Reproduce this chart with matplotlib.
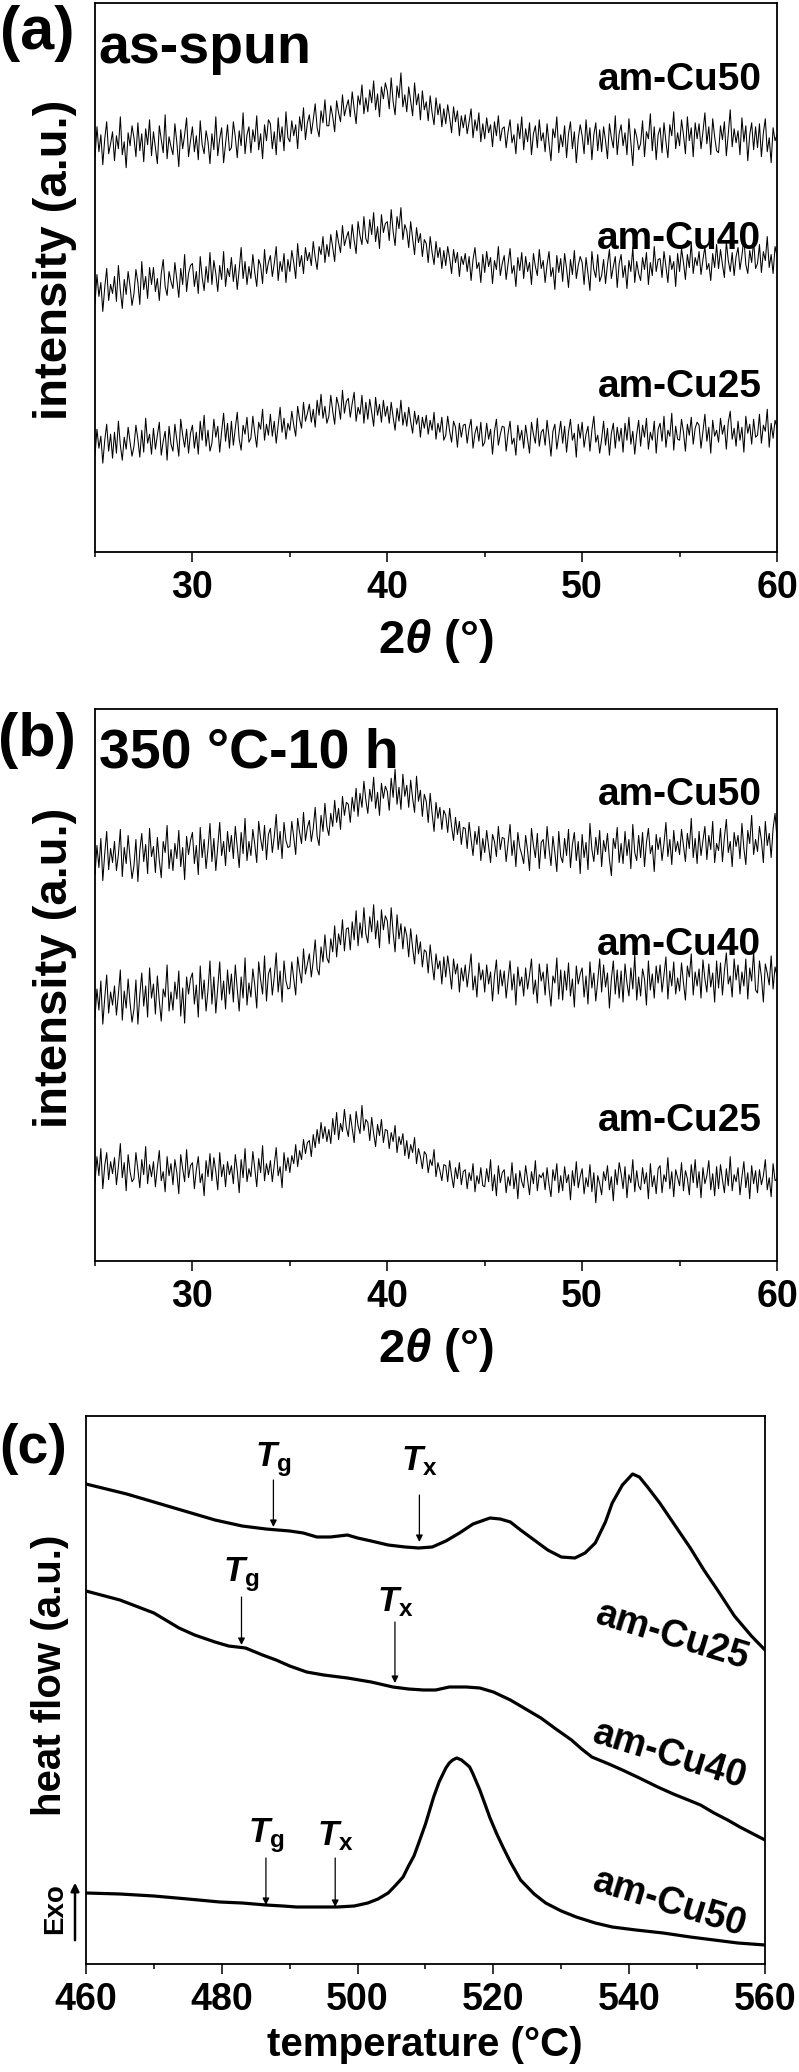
import numpy as np
import matplotlib
matplotlib.use("Agg")
import matplotlib.pyplot as plt
from matplotlib.ticker import MultipleLocator

plt.rcParams['font.family'] = ['Liberation Sans', 'DejaVu Sans']
plt.rcParams['font.weight'] = 'bold'
plt.rcParams['mathtext.fontset'] = 'custom'
plt.rcParams['mathtext.rm'] = 'Liberation Sans:bold'
plt.rcParams['mathtext.it'] = 'Liberation Sans:italic'
plt.rcParams['mathtext.bf'] = 'Liberation Sans:bold'
plt.rcParams['mathtext.bfit'] = 'Liberation Sans:bold:italic'

# 2theta scan, 0.1 deg step
two_theta = np.round(np.arange(25.0, 60.001, 0.1), 1)

# (a) as-spun
a_cu50 = [395, 426, 401, 418, 388, 414, 431, 399, 409, 421,
          392, 417, 404, 436, 398, 411, 385, 420, 407, 427,
          415, 396, 430, 402, 419, 391, 424, 408, 433, 397,
          421, 405, 389, 427, 413, 400, 438, 394, 416, 406,
          398, 429, 410, 386, 423, 404, 418, 435, 396, 412,
          426, 401, 417, 393, 432, 408, 399, 422, 411, 389,
          419, 403, 436, 397, 414, 425, 390, 409, 428, 402,
          405, 431, 416, 395, 422, 407, 440, 399, 418, 426,
          400, 423, 411, 437, 403, 419, 394, 428, 412, 433,
          429, 404, 421, 398, 435, 411, 426, 402, 441, 415,
          411, 432, 417, 428, 404, 436, 422, 445, 413, 430,
          438, 419, 433, 449, 425, 416, 442, 430, 453, 427,
          427, 447, 436, 421, 452, 440, 431, 458, 437, 446,
          453, 436, 461, 444, 429, 457, 448, 468, 439, 455,
          441, 463, 450, 472, 443, 459, 436, 466, 454, 470,
          462, 444, 475, 451, 438, 467, 455, 480, 446, 458,
          441, 466, 452, 437, 470, 448, 459, 433, 462, 443,
          451, 432, 457, 440, 428, 455, 438, 449, 426, 444,
          429, 448, 435, 420, 446, 431, 442, 417, 437, 425,
          438, 419, 431, 444, 415, 433, 422, 440, 411, 429,
          414, 435, 420, 428, 406, 431, 417, 437, 412, 424,
          426, 405, 421, 433, 410, 418, 399, 429, 414, 436,
          403, 424, 411, 430, 398, 419, 427, 405, 433, 412,
          420, 401, 429, 409, 392, 424, 415, 436, 400, 418,
          406, 427, 395, 419, 431, 404, 421, 390, 414, 428,
          417, 399, 433, 408, 425, 393, 418, 430, 402, 423,
          401, 426, 412, 394, 429, 415, 405, 437, 398, 419,
          428, 407, 420, 398, 434, 411, 387, 424, 416, 403,
          409, 432, 396, 421, 414, 439, 402, 426, 393, 418,
          425, 400, 430, 411, 395, 428, 417, 441, 404, 420,
          407, 433, 418, 399, 436, 412, 425, 396, 430, 414,
          429, 404, 421, 440, 409, 426, 398, 434, 416, 402,
          400, 427, 413, 431, 397, 419, 443, 406, 424, 410,
          422, 398, 435, 411, 427, 392, 418, 430, 403, 426,
          405, 429, 396, 420, 434, 401, 415, 390, 425, 412,
          418]
a_cu40 = [249, 278, 256, 270, 241, 265, 284, 252, 268, 259,
          276, 251, 287, 262, 244, 273, 258, 281, 266, 247,
          259, 283, 270, 248, 291, 263, 276, 254, 285, 268,
          285, 261, 274, 252, 279, 293, 266, 257, 281, 271,
          264, 290, 272, 255, 284, 268, 298, 261, 279, 287,
          289, 266, 281, 259, 296, 275, 262, 286, 270, 300,
          268, 292, 279, 261, 287, 273, 301, 266, 284, 276,
          295, 271, 288, 263, 283, 305, 274, 291, 268, 286,
          274, 298, 280, 266, 293, 287, 269, 303, 279, 290,
          297, 276, 289, 306, 272, 291, 281, 299, 270, 293,
          281, 302, 290, 274, 309, 286, 297, 279, 305, 292,
          300, 287, 311, 295, 283, 306, 298, 316, 290, 308,
          296, 318, 305, 291, 322, 310, 300, 327, 307, 315,
          321, 304, 328, 312, 299, 331, 317, 308, 336, 314,
          309, 333, 318, 340, 311, 326, 304, 338, 320, 329,
          331, 312, 343, 321, 307, 336, 324, 345, 313, 328,
          322, 305, 331, 314, 298, 325, 310, 319, 296, 313,
          309, 290, 316, 300, 288, 311, 295, 305, 284, 302,
          287, 306, 294, 279, 303, 290, 300, 276, 296, 288,
          299, 281, 296, 272, 293, 305, 284, 290, 270, 298,
          280, 301, 286, 295, 269, 292, 283, 306, 277, 289,
          297, 273, 289, 304, 279, 287, 266, 295, 282, 300,
          274, 296, 281, 290, 268, 299, 286, 277, 303, 284,
          292, 270, 288, 301, 276, 285, 263, 297, 280, 294,
          271, 299, 284, 265, 293, 278, 302, 274, 287, 296,
          290, 268, 295, 279, 262, 301, 283, 275, 298, 271,
          277, 293, 269, 288, 303, 274, 286, 296, 265, 289,
          298, 275, 287, 264, 292, 281, 305, 270, 291, 279,
          272, 295, 283, 300, 268, 290, 277, 306, 281, 293,
          294, 275, 301, 286, 270, 297, 283, 291, 266, 299,
          281, 304, 290, 273, 298, 285, 310, 279, 295, 287,
          301, 278, 293, 306, 283, 289, 272, 299, 285, 308,
          284, 303, 288, 275, 311, 292, 281, 300, 277, 296,
          305, 283, 297, 314, 288, 279, 302, 290, 312, 284,
          289, 308, 280, 301, 292, 316, 285, 298, 279, 306,
          297]
a_cu25 = [97, 123, 104, 116, 89, 112, 128, 101, 118, 94,
          120, 99, 131, 107, 92, 115, 103, 125, 110, 96,
          106, 127, 113, 95, 122, 100, 134, 109, 118, 98,
          124, 103, 117, 130, 97, 111, 121, 92, 126, 108,
          101, 128, 112, 96, 133, 117, 105, 123, 99, 119,
          127, 104, 120, 98, 131, 112, 137, 106, 122, 101,
          109, 133, 115, 126, 100, 121, 139, 111, 129, 104,
          131, 107, 124, 140, 113, 102, 127, 118, 135, 110,
          114, 136, 119, 105, 130, 123, 143, 112, 128, 117,
          138, 116, 131, 109, 127, 145, 120, 134, 113, 129,
          122, 141, 127, 116, 146, 133, 124, 150, 131, 139,
          148, 130, 143, 125, 152, 137, 158, 134, 146, 129,
          136, 157, 141, 128, 155, 147, 133, 162, 139, 151,
          154, 135, 149, 160, 131, 145, 138, 157, 129, 150,
          133, 153, 140, 126, 155, 137, 148, 130, 152, 136,
          146, 129, 150, 135, 122, 144, 131, 152, 127, 140,
          126, 145, 131, 119, 141, 128, 137, 115, 135, 124,
          137, 118, 132, 122, 140, 113, 129, 120, 135, 112,
          117, 136, 121, 110, 131, 125, 105, 129, 115, 127,
          128, 109, 124, 133, 104, 119, 126, 111, 130, 106,
          110, 129, 113, 123, 98, 121, 133, 107, 118, 126,
          125, 101, 119, 131, 108, 114, 97, 127, 112, 122,
          104, 127, 113, 99, 130, 118, 109, 134, 106, 120,
          123, 107, 132, 115, 96, 121, 128, 103, 117, 131,
          109, 126, 100, 120, 133, 112, 119, 95, 128, 114,
          130, 105, 118, 126, 101, 122, 136, 110, 117, 99,
          113, 131, 107, 124, 97, 119, 129, 104, 125, 111,
          124, 100, 129, 112, 135, 108, 121, 98, 118, 132,
          106, 127, 115, 134, 103, 120, 112, 131, 99, 123,
          129, 111, 136, 105, 122, 116, 139, 102, 126, 113,
          112, 133, 120, 101, 128, 117, 135, 108, 124, 130,
          127, 104, 121, 138, 111, 125, 99, 132, 116, 122,
          110, 134, 118, 127, 103, 130, 141, 113, 124, 106,
          131, 112, 125, 100, 136, 119, 128, 108, 133, 115,
          117, 138, 109, 127, 121, 143, 105, 129, 114, 132,
          125]

# (b) 350 C - 10 h
b_cu50 = [385, 414, 392, 421, 379, 406, 428, 390, 411, 397,
          418, 389, 405, 430, 383, 412, 396, 424, 401, 381,
          394, 420, 378, 409, 426, 398, 415, 386, 431, 403,
          413, 387, 422, 399, 382, 418, 407, 434, 391, 410,
          389, 416, 401, 429, 393, 412, 380, 423, 405, 419,
          427, 396, 414, 385, 432, 402, 420, 391, 411, 436,
          398, 421, 389, 413, 437, 404, 418, 394, 428, 408,
          424, 401, 433, 412, 392, 427, 406, 441, 399, 418,
          404, 430, 415, 397, 438, 421, 409, 434, 400, 425,
          431, 407, 423, 445, 410, 428, 401, 437, 419, 412,
          413, 438, 422, 405, 441, 427, 416, 447, 419, 432,
          439, 418, 431, 452, 423, 414, 444, 428, 456, 433,
          424, 446, 433, 459, 437, 451, 430, 463, 444, 457,
          455, 437, 462, 448, 471, 443, 466, 452, 478, 459,
          446, 470, 458, 482, 451, 467, 444, 476, 461, 473,
          468, 449, 481, 462, 490, 455, 472, 450, 485, 463,
          474, 452, 479, 461, 447, 483, 458, 469, 443, 465,
          458, 437, 466, 446, 428, 457, 441, 452, 430, 449,
          444, 427, 451, 433, 419, 442, 425, 438, 415, 432,
          431, 411, 437, 420, 404, 428, 415, 433, 399, 421,
          407, 429, 413, 397, 425, 418, 403, 433, 410, 422,
          421, 398, 416, 435, 404, 419, 393, 427, 412, 405,
          396, 424, 409, 389, 431, 414, 402, 426, 391, 417,
          420, 401, 433, 411, 394, 423, 407, 388, 428, 403,
          397, 421, 404, 430, 392, 415, 427, 399, 418, 386,
          425, 402, 417, 390, 436, 410, 398, 422, 405, 429,
          393, 419, 408, 426, 400, 384, 421, 411, 432, 397,
          416, 396, 428, 404, 420, 391, 435, 407, 399, 424,
          402, 427, 393, 417, 431, 406, 414, 388, 425, 410,
          422, 399, 416, 437, 403, 420, 395, 429, 408, 418,
          405, 430, 414, 398, 426, 411, 441, 402, 421, 396,
          428, 404, 419, 433, 400, 424, 410, 438, 397, 416,
          409, 431, 398, 422, 440, 407, 418, 393, 427, 413,
          424, 401, 436, 411, 395, 429, 416, 444, 405, 420,
          408, 433, 419, 397, 438, 414, 426, 402, 431, 446,
          421]
b_cu40 = [243, 271, 250, 279, 236, 262, 285, 247, 268, 255,
          274, 245, 266, 290, 240, 269, 252, 281, 257, 238,
          251, 280, 236, 265, 287, 254, 274, 243, 292, 262,
          276, 246, 284, 259, 239, 271, 263, 295, 249, 268,
          250, 278, 261, 289, 244, 272, 237, 283, 266, 281,
          287, 256, 275, 243, 294, 261, 280, 249, 270, 299,
          256, 283, 247, 272, 298, 260, 279, 251, 290, 266,
          286, 258, 295, 271, 249, 283, 262, 302, 255, 277,
          263, 291, 275, 252, 298, 280, 266, 304, 259, 286,
          292, 265, 283, 307, 268, 289, 258, 299, 279, 271,
          272, 298, 281, 265, 303, 289, 277, 311, 286, 296,
          306, 283, 299, 320, 291, 285, 313, 298, 325, 302,
          297, 321, 308, 334, 303, 326, 315, 340, 309, 331,
          332, 310, 338, 320, 349, 314, 337, 322, 352, 326,
          317, 343, 328, 355, 321, 339, 312, 350, 330, 344,
          339, 316, 352, 327, 308, 345, 321, 336, 311, 333,
          324, 303, 331, 312, 296, 325, 306, 318, 293, 310,
          308, 287, 315, 296, 280, 306, 291, 299, 276, 303,
          283, 304, 289, 271, 301, 286, 296, 268, 292, 279,
          295, 273, 289, 306, 270, 284, 263, 297, 280, 290,
          268, 295, 276, 288, 259, 284, 300, 266, 290, 274,
          289, 262, 281, 299, 270, 286, 255, 293, 274, 283,
          264, 292, 271, 285, 301, 266, 280, 257, 296, 279,
          288, 265, 296, 272, 254, 284, 277, 302, 261, 290,
          260, 289, 270, 297, 264, 281, 253, 294, 276, 286,
          292, 263, 284, 256, 298, 272, 287, 259, 279, 301,
          268, 295, 273, 287, 252, 281, 299, 266, 290, 262,
          289, 258, 296, 277, 264, 292, 271, 305, 260, 283,
          264, 291, 281, 255, 299, 270, 286, 262, 294, 277,
          295, 268, 285, 303, 261, 289, 274, 298, 266, 282,
          269, 297, 277, 260, 294, 283, 306, 265, 288, 274,
          291, 262, 300, 281, 268, 296, 273, 287, 258, 299,
          272, 297, 265, 289, 307, 276, 284, 263, 301, 280,
          295, 266, 288, 274, 301, 261, 292, 279, 308, 270,
          267, 299, 283, 258, 296, 287, 275, 304, 271, 293,
          284]
b_cu25 = [78, 104, 85, 112, 72, 95, 108, 81, 99, 87,
          103, 76, 94, 117, 83, 98, 70, 106, 89, 79,
          82, 108, 91, 73, 101, 86, 114, 77, 96, 84,
          99, 74, 93, 110, 80, 89, 69, 104, 85, 97,
          76, 101, 88, 67, 106, 92, 79, 111, 83, 95,
          98, 72, 91, 104, 78, 87, 65, 100, 84, 107,
          80, 103, 89, 71, 108, 84, 96, 74, 99, 86,
          95, 77, 106, 90, 68, 101, 83, 112, 79, 92,
          84, 109, 92, 74, 102, 88, 115, 80, 97, 86,
          100, 79, 96, 113, 85, 94, 73, 108, 90, 103,
          88, 105, 97, 116, 94, 110, 101, 121, 107, 118,
          120, 104, 126, 113, 131, 117, 138, 122, 134, 119,
          131, 117, 142, 126, 148, 121, 137, 129, 151, 133,
          124, 146, 132, 118, 149, 135, 127, 155, 130, 141,
          138, 120, 143, 127, 114, 136, 125, 141, 118, 131,
          130, 112, 128, 119, 135, 108, 124, 116, 127, 105,
          120, 102, 116, 108, 123, 97, 112, 104, 92, 109,
          106, 88, 101, 95, 111, 84, 98, 90, 80, 96,
          95, 79, 100, 85, 73, 93, 82, 98, 76, 89,
          91, 72, 88, 80, 97, 69, 85, 77, 93, 75,
          74, 92, 79, 101, 70, 86, 65, 95, 78, 88,
          91, 68, 84, 75, 98, 72, 87, 62, 90, 79,
          73, 95, 81, 66, 89, 77, 100, 70, 86, 83,
          88, 71, 93, 76, 64, 91, 80, 97, 68, 85,
          70, 94, 78, 86, 61, 90, 75, 99, 73, 84,
          92, 67, 83, 74, 96, 69, 88, 58, 85, 77,
          66, 89, 80, 95, 71, 84, 60, 91, 76, 98,
          87, 72, 94, 63, 86, 78, 101, 69, 90, 75,
          71, 93, 77, 88, 62, 97, 74, 85, 67, 92,
          95, 68, 86, 79, 103, 72, 89, 64, 91, 83,
          75, 98, 70, 90, 82, 66, 96, 78, 101, 73,
          89, 63, 93, 77, 85, 100, 71, 87, 65, 94,
          72, 96, 81, 68, 92, 75, 104, 70, 86, 79,
          93, 66, 84, 99, 73, 88, 62, 95, 77, 90,
          68, 91, 76, 85, 101, 71, 83, 64, 97, 80,
          82]

xrd_names = ['am-Cu50', 'am-Cu40', 'am-Cu25']
a_label_y = [473, 314, 165]
b_label_y = [464, 315, 139]

# (c) DSC
t_cu25 = [460, 463, 466, 470, 474, 479, 483, 486.5, 490, 492, 494, 496, 498.5, 500, 502,
          504.5, 507, 509, 511, 513, 515, 517, 519.5, 521, 522.5, 524, 526, 528, 530, 532,
          533.5, 535, 536.5, 537.5, 539, 540.5, 541.5, 542.7, 544.5, 546.5, 549, 551, 553,
          555.5, 558, 560]
hf_cu25 = [480, 475, 470, 462, 454, 444, 438, 435, 433, 431, 427, 427, 429, 426, 423,
           419, 417, 416, 417, 423, 431, 440, 446, 445, 442, 434, 424, 414, 407, 406,
           411, 421, 442, 461, 479, 490, 487, 477, 461, 441, 416, 394, 374,
           348, 328, 314]
t_cu40 = [460, 465, 470, 473.7, 476, 479, 481, 483.5, 486, 488, 490, 492.5, 495, 498.5, 502,
          505.2, 507.5, 509.7, 511.5, 513.5, 516, 518, 520, 522.5, 525, 527, 529, 531.5, 533,
          534.5, 537, 539, 541.5, 544.2, 546.5, 548.7, 550.5, 552.5, 554.5, 556.3, 558, 560]
hf_cu40 = [373, 364, 351, 336, 329, 322, 318, 316, 309, 304, 298, 292, 289, 286, 282,
           277, 275, 274, 274, 277, 277, 276, 272, 264, 254, 246, 236, 224, 215,
           207, 200, 194, 186, 177, 170, 164, 159, 151, 144, 137, 131, 124]
t_cu50 = [460, 465, 470, 475, 479.7, 483, 486.5, 489, 491, 494, 497, 499.5, 501.5, 503, 504.5,
          505.5, 506.7, 507.5, 508.3, 509, 510, 511.2, 512, 513, 513.5, 514, 514.6, 515.3, 516,
          516.5, 517, 518, 518.7, 519.5, 520.5, 521.4, 522.5, 524, 526, 527.7, 530, 532.2, 535,
          537.5, 541, 545, 549, 552.5, 556, 560]
hf_cu50 = [71, 70, 68, 65, 62, 61, 59, 58, 57, 57, 57, 58, 61, 65, 71,
           78, 87, 98, 108, 121, 140, 167, 182, 196, 201, 204, 206, 204, 200,
           197, 190, 174, 161, 146, 130, 117, 102, 84, 70, 61, 53, 47, 41,
           37, 34, 31, 27, 24, 21, 19]

dsc_label_pos = [(546.4, 327), (545.9, 208), (545.9, 60)]
dsc_names = ['am-Cu25', 'am-Cu40', 'am-Cu50']

# Tg / Tx marks: (subscript, x, label y, arrow start y, arrow end y)
marks = [('g', 487.6, 504, 484, 437), ('x', 509.1, 503, 469, 422),
         ('g', 482.9, 389, 367, 319), ('x', 505.5, 362, 342, 281),
         ('g', 486.5, 128, 106, 59), ('x', 496.7, 128, 106, 57)]

W, H = 799, 2072
fig = plt.figure(figsize=(W / 100, H / 100), dpi=100)


def fx(x):
    return x / W


def fy(y):
    return 1 - y / H


def box(left, top, right, bottom):
    return [fx(left), fy(bottom), (right - left) / W, (bottom - top) / H]


def style_axes(ax):
    for s in ax.spines.values():
        s.set_linewidth(1.3)
    ax.set_yticks([])
    ax.tick_params(axis='x', which='major', direction='out', length=7, width=1.1,
                   pad=6, labelsize=27)
    ax.tick_params(axis='x', which='minor', direction='out', length=3.6, width=1.1)
    for lab in ax.get_xticklabels():
        lab.set_fontweight('bold')


ax_a = fig.add_axes(box(95, 3, 777, 552))
ax_b = fig.add_axes(box(95, 709, 777, 1261))
for ax, series, label_y in [(ax_a, [a_cu50, a_cu40, a_cu25], a_label_y),
                            (ax_b, [b_cu50, b_cu40, b_cu25], b_label_y)]:
    for vals, name, ly in zip(series, xrd_names, label_y):
        ax.plot(two_theta, vals, color='black', lw=0.75)
        ax.text(59.2, ly, name, ha='right', va='center', fontsize=28, fontweight='bold')
    ax.set_xlim(25, 60)
    ax.set_ylim(0, 550)
    ax.xaxis.set_major_locator(MultipleLocator(10))
    ax.xaxis.set_minor_locator(MultipleLocator(5))
    style_axes(ax)

ax_c = fig.add_axes(box(86, 1416, 765, 1964))
ax_c.plot(t_cu25, hf_cu25, color='black', lw=2.3)
ax_c.plot(t_cu40, hf_cu40, color='black', lw=2.3)
ax_c.plot(t_cu50, hf_cu50, color='black', lw=2.3)
for (lx, ly), name in zip(dsc_label_pos, dsc_names):
    ax_c.text(lx, ly, name, ha='center', va='center', rotation=-17,
              fontsize=27, fontweight='bold')
for sub, x, ty, y0, y1 in marks:
    ax_c.text(x, ty, r'$\mathbfit{T}_{\mathrm{%s}}$' % sub, ha='center', va='center',
              fontsize=25)
    ax_c.annotate('', xy=(x, y1), xytext=(x, y0),
                  arrowprops=dict(arrowstyle='-|>', color='black', lw=0.9,
                                  mutation_scale=10, shrinkA=0, shrinkB=0))
ax_c.set_xlim(460, 560)
ax_c.set_ylim(0, 548)
ax_c.xaxis.set_major_locator(MultipleLocator(20))
ax_c.xaxis.set_minor_locator(MultipleLocator(10))
style_axes(ax_c)

# panel labels and titles
fig.text(fx(37), fy(33), '(a)', ha='center', va='center', fontsize=44, fontweight='bold')
fig.text(fx(98), fy(63), 'as-spun', ha='left', va='baseline', fontsize=40, fontweight='bold')
fig.text(fx(37), fy(740), '(b)', ha='center', va='center', fontsize=44, fontweight='bold')
fig.text(fx(99), fy(768), '350 °C-10 h', ha='left', va='baseline', fontsize=40,
         fontweight='bold')
fig.text(fx(33), fy(1449), '(c)', ha='center', va='center', fontsize=40, fontweight='bold')

# axis labels
fig.text(fx(436), fy(641), r'2$\mathbfit{\theta}$ (°)', ha='center', va='center',
         fontsize=34, fontweight='bold')
fig.text(fx(436), fy(1350), r'2$\mathbfit{\theta}$ (°)', ha='center', va='center',
         fontsize=34, fontweight='bold')
fig.text(fx(55), fy(260), 'intensity (a.u.)', ha='center', va='center', rotation=90,
         fontsize=34, fontweight='bold')
fig.text(fx(55), fy(968), 'intensity (a.u.)', ha='center', va='center', rotation=90,
         fontsize=34, fontweight='bold')
fig.text(fx(425), fy(2045), 'temperature (°C)', ha='center', va='center',
         fontsize=29, fontweight='bold')
fig.text(fx(50), fy(1675), 'heat flow (a.u.)', ha='center', va='center', rotation=90,
         fontsize=29, fontweight='bold')

# Exo arrow
fig.text(fx(55), fy(1909), 'Exo', ha='center', va='center', rotation=90, fontsize=20,
         fontweight='bold')
fig.add_artist(matplotlib.patches.FancyArrowPatch((fx(75), fy(1943)), (fx(75), fy(1880)),
                                                  transform=fig.transFigure,
                                                  arrowstyle='-|>', mutation_scale=12,
                                                  color='black', lw=1.8))

fig.savefig('out.png', dpi=100)
